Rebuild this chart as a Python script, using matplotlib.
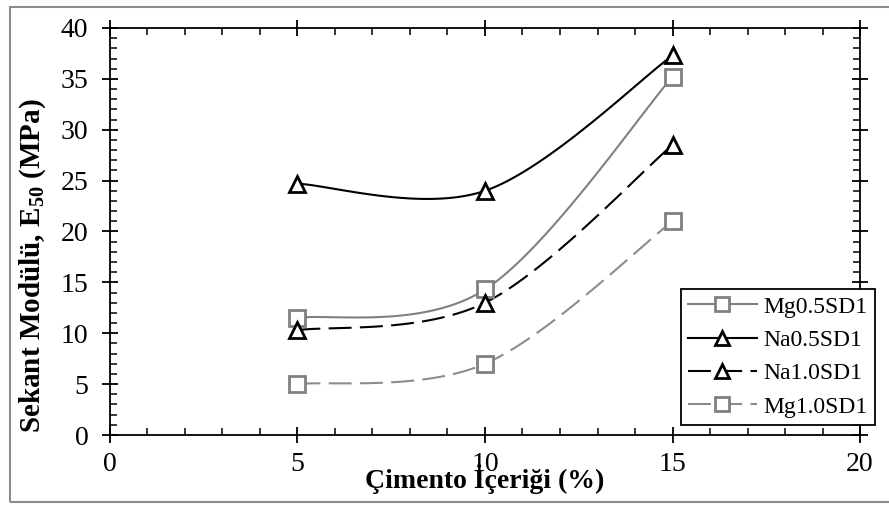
import numpy as np
import matplotlib
matplotlib.use("Agg")
import matplotlib.pyplot as plt
from matplotlib.patches import Rectangle
from matplotlib.ticker import MultipleLocator

plt.rcParams['font.family'] = ['Liberation Serif', 'DejaVu Serif']
plt.rcParams['mathtext.fontset'] = 'custom'
plt.rcParams['mathtext.rm'] = 'Liberation Serif'
plt.rcParams['mathtext.bf'] = 'Liberation Serif:bold'

cement = [5, 10, 15]
mg05 = [11.5, 14.3, 35.2]
na05 = [24.7, 24.0, 37.3]
na10 = [10.3, 13.0, 28.5]
mg10 = [5.0, 7.0, 21.0]

names = ['Mg0.5SD1', 'Na0.5SD1', 'Na1.0SD1', 'Mg1.0SD1']
grey = '#808080'
dash = (0, (11, 4))


def smooth(x, y, n=60):
    # bezier smoothing like a spreadsheet "smoothed line"
    p = np.column_stack([x, y]).astype(float)
    ext = np.vstack([p[0], p, p[-1]])
    out = []
    t = np.linspace(0, 1, n)[:, None]
    for i in range(len(p) - 1):
        p0, p1, p2, p3 = ext[i], ext[i + 1], ext[i + 2], ext[i + 3]
        c1 = p1 + (p2 - p0) / 6
        c2 = p2 - (p3 - p1) / 6
        seg = ((1 - t) ** 3) * p1 + 3 * ((1 - t) ** 2) * t * c1 \
            + 3 * (1 - t) * t ** 2 * c2 + t ** 3 * p2
        out.append(seg)
    s = np.vstack(out)
    return s[:, 0], s[:, 1]


fig = plt.figure(figsize=(8.89, 5.07), dpi=100)
fig.patches.append(Rectangle((0.011, 0.009), 1.0, 0.977, transform=fig.transFigure,
                             fill=False, edgecolor='#8c8c8c', linewidth=1.5))
ax = fig.add_axes([0.1237, 0.142, 0.8437, 0.8028])

series = [
    (mg05, grey, '-', 's', grey),
    (na05, 'black', '-', '^', 'black'),
    (na10, 'black', dash, '^', 'black'),
    (mg10, '#8c8c8c', dash, 's', grey),
]
handles = []
for (vals, col, ls, mk, mcol), name in zip(series, names):
    sx, sy = smooth(cement, vals)
    ax.plot(sx, sy, color=col, linestyle=ls, linewidth=1.5, zorder=2)
    ax.plot(cement, vals, linestyle='none', marker=mk, markersize=12,
            markerfacecolor='white', markeredgecolor=mcol, markeredgewidth=2, zorder=3)
    h, = ax.plot([], [], color=col, linestyle=ls, linewidth=1.5, marker=mk, markersize=10,
                 markerfacecolor='white', markeredgecolor=mcol, markeredgewidth=2)
    handles.append(h)

ax.set_xlim(0, 20)
ax.set_ylim(0, 40)
ax.xaxis.set_major_locator(MultipleLocator(5))
ax.xaxis.set_minor_locator(MultipleLocator(1))
ax.yaxis.set_major_locator(MultipleLocator(5))
ax.yaxis.set_minor_locator(MultipleLocator(1))
ax.tick_params(which='major', direction='inout', length=11, width=1.3,
               top=True, right=True, labelsize=20)
ax.tick_params(axis='x', which='major', pad=7)
ax.tick_params(axis='y', which='major', pad=10)
ax.tick_params(which='minor', direction='in', length=5, width=1.1, top=True, right=True)
for sp in ax.spines.values():
    sp.set_linewidth(1.3)

ax.set_xlabel('Çimento İçeriği (%)', fontsize=20, fontweight='bold')
ax.xaxis.label.set_va('baseline')
ax.xaxis.set_label_coords(0.5, -0.13)
ax.set_ylabel(r'Sekant Modülü, E$_{\mathbf{50}}$ (MPa)', fontsize=21, fontweight='bold')
ax.yaxis.label.set_va('center')
ax.yaxis.set_label_coords(-0.103, 0.415)

leg = ax.legend(handles, names, loc='lower right', bbox_to_anchor=(1.02, 0.025),
                fontsize=17, frameon=True, fancybox=False, edgecolor='black', framealpha=1,
                handlelength=2.9, borderpad=0.3, labelspacing=0.5, handletextpad=0.3,
                borderaxespad=0)
leg.get_frame().set_linewidth(1.3)
leg.set_zorder(5)

fig.savefig('out.png', dpi=100)
